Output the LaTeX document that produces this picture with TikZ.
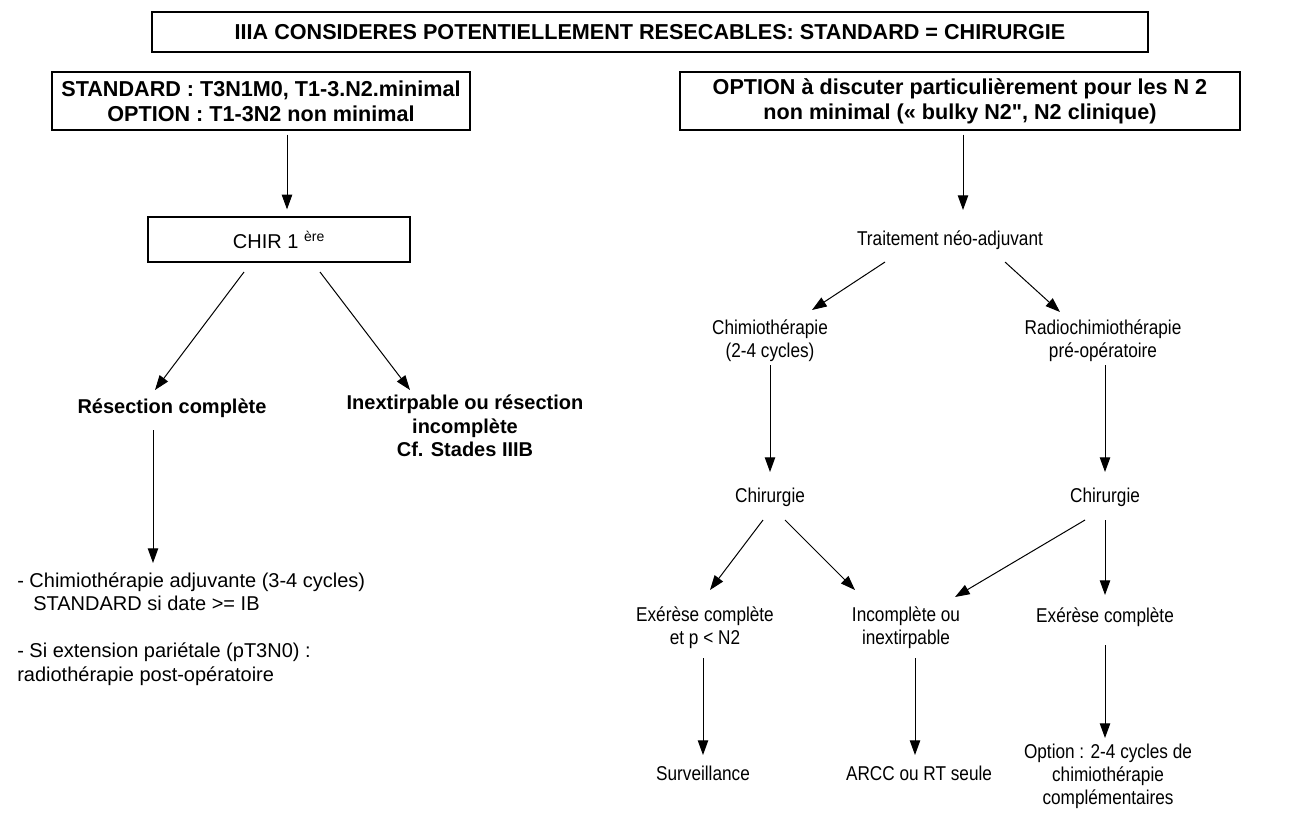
\documentclass[tikz,border=0pt]{standalone}
\usepackage{fontspec}
\setmainfont{Liberation Sans}
\newfontfamily\condfont[FakeStretch=0.86]{Liberation Sans}
\usetikzlibrary{arrows.meta,calc}

% font sizes used in the chart
\newcommand\fHead{\fontsize{16.2pt}{18.75pt}\selectfont\bfseries}
\newcommand\fBold{\fontsize{15pt}{17.5pt}\selectfont\bfseries}
\newcommand\fLeft{\fontsize{15pt}{17.5pt}\selectfont}
\newcommand\fRight{\condfont\fontsize{15pt}{17.25pt}\selectfont}

\begin{document}
\begin{tikzpicture}[x=0.75pt,y=-0.75pt,
  box/.style={draw, line width=0.9pt, inner sep=0pt, align=center, font=\fHead},
  ltext/.style={inner sep=0pt, align=center, font=\fLeft},
  btext/.style={inner sep=0pt, align=center, font=\fBold},
  rtext/.style={inner sep=0pt, align=center, font=\fRight},
  arr/.style={line width=0.75pt, -{Triangle[length=11pt,width=7.8pt]}}]
\useasboundingbox (0,0) rectangle (1301,819);

% boxed headings
\node[box, minimum width=747pt, minimum height=30pt] (title) at (650,32)
  {IIIA CONSIDERES POTENTIELLEMENT RESECABLES: STANDARD = CHIRURGIE};
\node[box, minimum width=313.5pt, minimum height=43.5pt] (lh) at (261,101)
  {STANDARD : T3N1M0, T1-3.N2.minimal\\OPTION : T1-3N2 non minimal};
\node[box, minimum width=420pt, minimum height=43.5pt] (rh) at (960,101)
  {OPTION à discuter particulièrement pour les N 2\\non minimal (« bulky N2\textquotedbl, N2 clinique)};
\node[box, font=\fLeft, minimum width=196.5pt, minimum height=33.75pt] (chir) at (279,239.5)
  {CHIR 1 \textsuperscript{ère}};

% left branch
\node[btext] (res) at (172,408) {Résection complète};
\node[btext] (inex) at (465,426) {Inextirpable ou résection\\incomplète\\Cf. Stades IIIB};
\node[ltext, align=left, anchor=north west] (adj) at (17,572)
  {- Chimiothérapie adjuvante (3-4 cycles)\\\hspace*{12pt}STANDARD si date >= IB\\[18pt]- Si extension pariétale (pT3N0) :\\radiothérapie post-opératoire};

% right branch
\node[rtext] (trt) at (950,240) {Traitement néo-adjuvant};
\node[rtext] (chimio) at (770,341) {Chimiothérapie\\(2-4 cycles)};
\node[rtext] (radio) at (1103,341) {Radiochimiothérapie\\pré-opératoire};
\node[rtext] (chirA) at (770,497) {Chirurgie};
\node[rtext] (chirB) at (1105,497) {Chirurgie};
\node[rtext] (exA) at (705,628) {Exérèse complète\\et p < N2};
\node[rtext] (inc) at (906,628) {Incomplète ou\\inextirpable};
\node[rtext] (exB) at (1105,617) {Exérèse complète};
\node[rtext] (surv) at (703,773) {Surveillance};
\node[rtext] (arcc) at (919,773) {ARCC ou RT seule};
\node[rtext] (opt) at (1108,776) {Option : 2-4 cycles de\\chimiothérapie\\complémentaires};

% connectors
\draw[arr] ($(lh.south)+(26,4)$) -- ($(chir.north)+(8,-7)$);
\draw[arr] ($(rh.south)+(3,4)$) -- ($(trt.center)+(13,-30)$);
\draw[arr] ($(chir.center)+(-35,32.5)$) -- ($(res.center)+(-17,-18)$);
\draw[arr] ($(chir.center)+(41,32.5)$) -- ($(inex.center)+(-55,-36)$);
\draw[arr] ($(res.center)+(-19,22)$) -- ($(adj.north west)+(136,-9)$);
\draw[arr] ($(trt.center)+(-65,22)$) -- ($(chimio.center)+(42,-31)$);
\draw[arr] ($(trt.center)+(55,22)$) -- ($(radio.center)+(-43,-29)$);
\draw[arr] ($(chimio.center)+(0,24)$) -- ($(chirA.center)+(0,-25)$);
\draw[arr] ($(radio.center)+(2,24)$) -- ($(chirB.center)+(0,-25)$);
\draw[arr] ($(chirA.center)+(-7,23)$) -- ($(exA.center)+(5,-38)$);
\draw[arr] ($(chirA.center)+(15,23)$) -- ($(inc.center)+(-51,-38)$);
\draw[arr] ($(chirB.center)+(-20,23)$) -- ($(inc.center)+(49,-31)$);
\draw[arr] ($(chirB.center)+(0,23)$) -- ($(exB.center)+(0,-22)$);
\draw[arr] ($(exA.center)+(-2,30)$) -- ($(surv.center)+(0,-18)$);
\draw[arr] ($(inc.center)+(9,30)$) -- ($(arcc.center)+(-4,-18)$);
\draw[arr] ($(exB.center)+(0,28)$) -- ($(opt.center)+(-3,-38)$);
\end{tikzpicture}
\end{document}
